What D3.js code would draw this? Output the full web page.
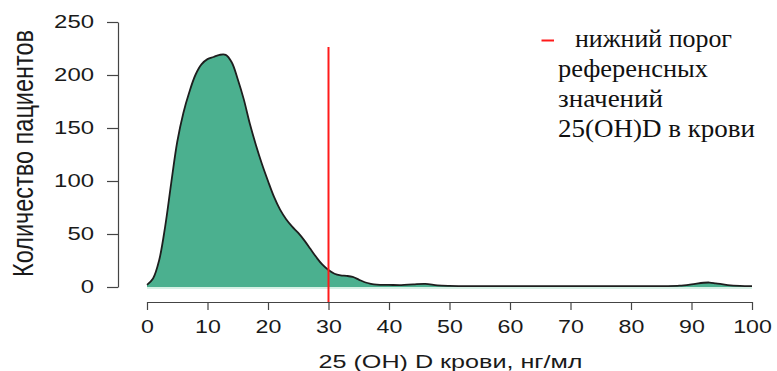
<!DOCTYPE html>
<html><head><meta charset="utf-8">
<script src="https://cdn.jsdelivr.net/npm/d3@7"></script>
<style>html,body{margin:0;padding:0;background:#fff;}svg{display:block;}</style>
</head><body>
<svg id="c" width="777" height="371"></svg>
<script>
const xValues = [0,1,2,3,4,5,6,7,8,9,10,11,12,13,14,15,16,17,18,19,20,21,22,23,24,25,26,27,28,29,30,31,32,33,34,35,36,37,38,40,42,44,46,48,50,55,60,70,80,86,88,90,92,93,94,96,98,100];
const densityValues = [2,8,25,57,98,137,164,184,200,210,215,217,219,219,212,196,177,154,134,116,100,85,73,64,57,51,44,36,28,21,16,12.5,11,10.5,9.5,7,4.5,3,2.2,2,1.8,2.5,3,1.5,1,0.8,0.8,0.8,0.8,0.9,1.3,2.5,4,4.2,3.5,1.8,1,0.8];
const xTicks = [0,10,20,30,40,50,60,70,80,90,100];
const yTicks = [0,50,100,150,200,250];
const thresholdValue = 30;
const xTitle = "25 (OH) D крови, нг/мл";
const yTitle = "Количество пациентов";
const legendLines = ["нижний порог","референсных","значений","25(OH)D в крови"];

const svg = d3.select("#c");
const x = d3.scaleLinear().domain([0,100]).range([147,752]);
const y = d3.scaleLinear().domain([0,250]).range([287,22]);
const data = xValues.map((v,i)=>({x:v,y:densityValues[i]}));
const curve = d3.curveCatmullRom.alpha(0.5);

// area
svg.append("path").datum(data)
  .attr("d", d3.area().x(d=>x(d.x)).y0(y(0)).y1(d=>y(d.y)).curve(curve))
  .attr("fill","#4bb08f");
svg.append("line").attr("x1",x(0)).attr("x2",x(100)).attr("y1",y(0)+1).attr("y2",y(0)+1)
  .attr("stroke","#c9ebdd").attr("stroke-width",1.5);
svg.append("path").datum(data)
  .attr("d", d3.line().x(d=>x(d.x)).y(d=>y(d.y)).curve(curve))
  .attr("fill","none").attr("stroke","#1e1e1e").attr("stroke-width",1.8);

// y axis
const gy = svg.append("g").attr("transform","translate(118,0)")
  .call(d3.axisLeft(y).tickValues(yTicks).tickSize(11).tickPadding(13).tickSizeOuter(0));
gy.select(".domain").attr("stroke","#444").attr("stroke-width",1.2);
gy.selectAll(".tick line").attr("stroke","#444").attr("stroke-width",1.2);
gy.selectAll(".tick text").attr("font-family","'Liberation Sans', Arial, sans-serif")
  .attr("font-size",17.5).attr("fill","#1a1a1a")
  .attr("textLength",d=>String(d).length*13.3).attr("lengthAdjust","spacingAndGlyphs");

// x axis
const gx = svg.append("g").attr("transform","translate(0,302)")
  .call(d3.axisBottom(x).tickValues(xTicks).tickSize(8).tickPadding(10).tickSizeOuter(0));
gx.select(".domain").attr("stroke","#444").attr("stroke-width",1.2);
gx.selectAll(".tick line").attr("stroke","#444").attr("stroke-width",1.2);
gx.selectAll(".tick text").attr("font-family","'Liberation Sans', Arial, sans-serif")
  .attr("font-size",18.5).attr("fill","#1a1a1a").attr("dy",null).attr("y",31)
  .attr("textLength",d=>String(d).length*12.9).attr("lengthAdjust","spacingAndGlyphs");

// threshold line
svg.append("line").attr("x1",x(thresholdValue)).attr("x2",x(thresholdValue))
  .attr("y1",47).attr("y2",302).attr("stroke","#ff1a1a").attr("stroke-width",2);

// titles
svg.append("text").attr("x",450.5).attr("y",368).attr("text-anchor","middle")
  .attr("font-family","'Liberation Sans', Arial, sans-serif").attr("font-size",18).attr("fill","#1a1a1a")
  .attr("textLength",264).attr("lengthAdjust","spacingAndGlyphs").text(xTitle);
svg.append("text").attr("transform","translate(33,153.5) rotate(-90) scale(1,1.38)")
  .attr("text-anchor","middle")
  .attr("font-family","'Liberation Sans', Arial, sans-serif").attr("font-size",21).attr("fill","#1a1a1a")
  .attr("textLength",247).attr("lengthAdjust","spacingAndGlyphs").text(yTitle);

// legend
svg.append("line").attr("x1",541.5).attr("x2",554).attr("y1",40.5).attr("y2",40.5)
  .attr("stroke","#ff1a1a").attr("stroke-width",2);
const legLens = [157,150,105,197];
const legX = [575,558,558,558];
legendLines.forEach((t,i)=>{
  svg.append("text").attr("x",legX[i]).attr("y",46.5+30*i)
    .attr("font-family","'Liberation Serif', 'Times New Roman', serif").attr("font-size",25).attr("fill","#111")
    .attr("textLength",legLens[i]).attr("lengthAdjust","spacingAndGlyphs").text(t);
});
</script>
</body></html>
